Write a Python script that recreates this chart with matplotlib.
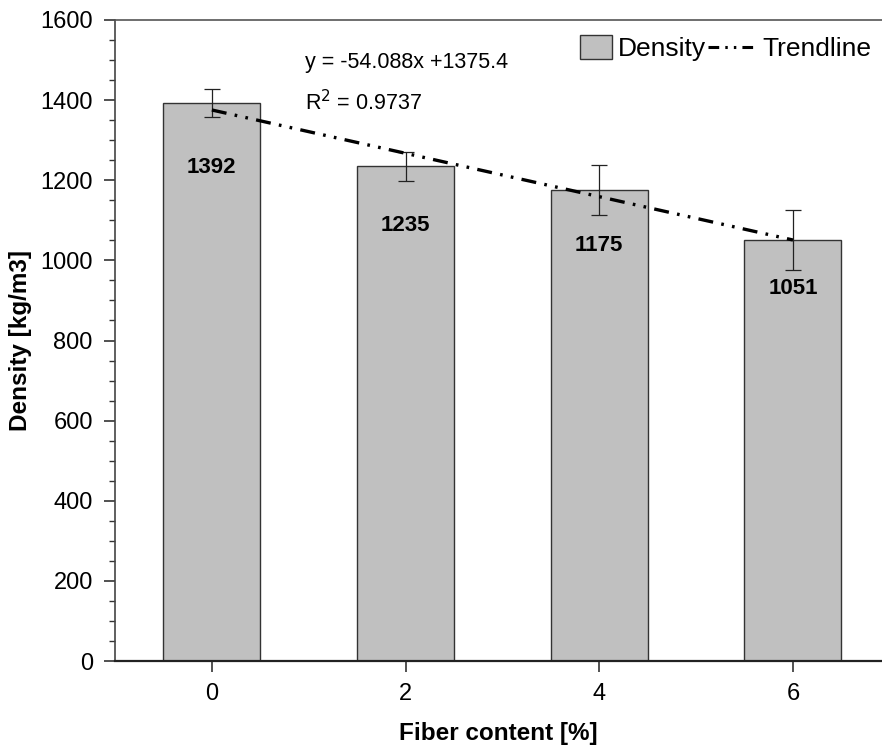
import numpy as np
from matplotlib import pyplot as plt
from matplotlib.patches import Rectangle
from matplotlib.lines import Line2D
from matplotlib.legend_handler import HandlerPatch
from matplotlib.ticker import MultipleLocator

plt.rcParams['font.family'] = ['Liberation Sans', 'DejaVu Sans']

fiber = [0, 2, 4, 6]
density = [1392, 1235, 1175, 1051]
density_err = [35, 36, 62, 74]
label_y = [1231, 1086, 1038, 931]

slope = -54.088
intercept = 1375.4
r2 = 0.9737


def narrow_patch(legend, orig_handle, xdescent, ydescent, width, height,
                 fontsize):
    # gray box in the legend is narrower and taller than the line handle
    w = width * 0.66
    h = height * 1.3
    return Rectangle((width - w - xdescent, -ydescent - (h - height) / 2),
                     w, h)


fig = plt.figure(figsize=(8.82, 7.51), dpi=100)
ax = fig.add_axes([115 / 882, 90 / 751, 767 / 882, 641 / 751])

bars = ax.bar(fiber, density, width=1.0, color='#c0c0c0',
              edgecolor='#333333', linewidth=1.0, label='Density', zorder=2)
ax.errorbar(fiber, density, yerr=density_err, fmt='none', ecolor='#222222',
            elinewidth=0.9, capsize=6, capthick=0.9, zorder=3)

xs = np.array([fiber[0], fiber[-1]])
ax.plot(xs, slope * xs + intercept, color='black', linewidth=2.4,
        linestyle=(0, (4.5, 2.5, 0.8, 2.5, 0.8, 2.5)), zorder=4)

for x, v, ly in zip(fiber, density, label_y):
    ax.text(x, ly, str(v), ha='center', va='center', fontsize=16,
            fontweight='bold', zorder=5)

ax.text(0.965, 1495, 'y = -54.088x +1375.4', fontsize=15.5, ha='left',
        va='center')
ax.text(0.965, 1393, 'R$^2$ = {}'.format(r2), fontsize=15.5, ha='left',
        va='center')

ax.set_xlim(-1, 6.92)
ax.set_ylim(0, 1600)
ax.set_xticks(fiber)
ax.yaxis.set_major_locator(MultipleLocator(200))
ax.yaxis.set_minor_locator(MultipleLocator(50))

ax.tick_params(axis='both', which='major', direction='out', length=8,
               width=1.2, labelsize=17, color='#333333')
ax.tick_params(axis='y', which='major', pad=8)
ax.tick_params(axis='x', which='major', pad=8)
ax.tick_params(axis='y', which='minor', direction='out', length=4,
               width=1.0, color='#333333')

ax.spines['right'].set_visible(False)
ax.spines['top'].set_color('#555555')
ax.spines['left'].set_color('#444444')
ax.spines['bottom'].set_color('#222222')
for s in ['top', 'left']:
    ax.spines[s].set_linewidth(1.2)
ax.spines['bottom'].set_linewidth(1.6)

ax.set_xlabel('Fiber content [%]', fontsize=17.5, fontweight='bold',
              labelpad=12)
ax.set_ylabel('Density [kg/m3]', fontsize=17.5, fontweight='bold',
              labelpad=6)

# legend proxies: dash . . dash for the trendline
bar_handle = bars.patches[0]
trend_handle = Line2D([], [], color='black', linewidth=2.2,
                      linestyle=(0, (3.5, 2.0, 0.8, 2.0, 0.8, 2.0)))
ax.legend([bar_handle, trend_handle], ['Density', 'Trendline'],
          loc='upper right', bbox_to_anchor=(1.0, 0.99), ncol=2,
          frameon=False, fontsize=19, handlelength=1.85, handletextpad=0.2,
          columnspacing=0.1, borderaxespad=0.0,
          handler_map={bar_handle: HandlerPatch(patch_func=narrow_patch)})

fig.savefig('out.png', dpi=100)
